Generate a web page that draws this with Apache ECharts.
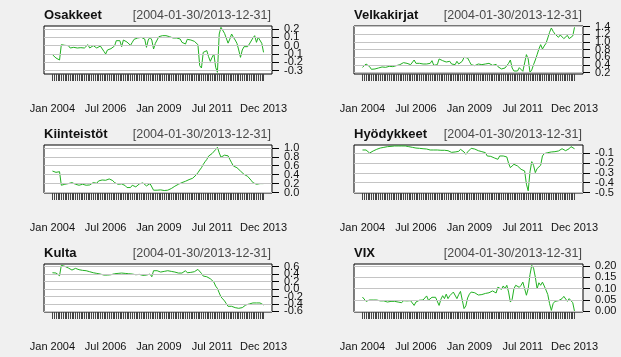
<!DOCTYPE html>
<html><head><meta charset="utf-8">
<script src="https://cdn.jsdelivr.net/npm/echarts@6/dist/echarts.min.js"></script>
<style>html,body{margin:0;padding:0;background:#f0f0f0;}#c{width:621px;height:357px;}</style>
</head><body><div id="c"></div>
<script>
// ---- data ----
const months = [];
for (let y = 2004; y <= 2013; y++) for (let m = 1; m <= 12; m++) months.push(y + '-' + String(m).padStart(2, '0'));
const xTickMonths = ['2004-01', '2006-07', '2009-01', '2011-07', '2013-12'];
const xTickLabels = ['Jan 2004', 'Jul 2006', 'Jan 2009', 'Jul 2011', 'Dec 2013'];
const dateRange = '[2004-01-30/2013-12-31]';
const panelNames = ['Osakkeet', 'Velkakirjat', 'Kiinteistöt', 'Hyödykkeet', 'Kulta', 'VIX'];

const osakkeet = [-0.108,-0.128,-0.148,-0.172,-0.172,0.012,0.02,0.004,-0.004,0,-0.028,-0.036,-0.02,-0.02,-0.028,-0.02,-0.024,-0.012,-0.028,-0.004,
0.012,-0.028,-0.02,0,-0.02,-0.028,-0.012,-0.004,-0.028,-0.068,-0.1,-0.052,-0.028,-0.036,-0.02,-0.004,0.06,0.08,0.06,-0.012,
0.068,0.06,0.044,0.02,0.004,0.04,0.076,0.068,0.092,0.072,0.1,0.084,0.08,-0.02,0.068,0.1,0.068,-0.04,0.028,0.068,
0.108,0.12,0.12,0.124,0.12,0.116,0.108,0.1,0.092,0.084,0.092,0.068,0.08,0.04,0.06,0.02,0.076,0.052,0.068,0.06,
0.052,0.036,0.012,-0.24,-0.268,-0.08,-0.068,-0.06,-0.132,-0.188,-0.14,-0.1,-0.26,-0.32,0.14,0.22,0.22,0.148,0.164,0.03,
0.08,0.14,0.1,0.068,0.028,-0.052,-0.14,-0.052,-0.012,-0.004,-0.012,0.02,0.04,0.092,0.12,0.04,0.1,0.08,0.028,-0.08];
const velkakirjat = [0.339,0.374,0.426,0.443,0.357,0.287,0.296,0.296,0.304,0.322,0.33,0.348,0.357,0.339,0.357,0.365,0.383,0.357,0.4,0.383,
0.383,0.409,0.435,0.461,0.426,0.443,0.426,0.409,0.435,0.53,0.443,0.435,0.443,0.435,0.426,0.47,0.426,0.409,0.443,0.513,
0.391,0.365,0.409,0.557,0.548,0.513,0.496,0.478,0.47,0.496,0.426,0.443,0.409,0.496,0.426,0.47,0.496,0.6,0.635,0.583,
0.496,0.409,0.391,0.383,0.409,0.426,0.417,0.409,0.417,0.426,0.409,0.443,0.426,0.391,0.443,0.417,0.357,0.322,0.296,0.252,
0.322,0.357,0.443,0.53,0.322,0.243,0.226,0.243,0.33,0.304,0.235,0.252,0.67,0.557,0.209,0.27,0.409,0.53,0.67,0.817,
0.93,0.817,0.896,0.965,1.104,1.252,1.365,1.278,1.209,1.165,1.122,1.183,1.139,1.087,1.139,1.174,1.087,1.139,1.157,1.383];
const kiinteistot = [0.481,0.467,0.452,0.467,0.467,0.163,0.17,0.185,0.193,0.2,0.207,0.222,0.259,0.185,0.17,0.163,0.178,0.185,0.185,0.163,
0.126,0.17,0.193,0.222,0.215,0.207,0.259,0.237,0.281,0.289,0.274,0.296,0.304,0.296,0.267,0.222,0.185,0.185,0.185,0.193,
0.2,0.156,0.111,0.104,0.111,0.163,0.141,0.126,0.163,0.193,0.207,0.215,0.185,0.148,0.17,0.2,0.163,0.052,0.052,0.052,
0.059,0.059,0.052,0.044,0.037,0.052,0.074,0.089,0.104,0.141,0.163,0.185,0.2,0.222,0.237,0.252,0.267,0.289,0.304,0.319,
0.348,0.393,0.444,0.504,0.556,0.63,0.689,0.741,0.815,0.852,0.874,0.896,0.963,1.015,0.889,0.793,0.793,0.837,0.8,0.822,
0.741,0.667,0.593,0.57,0.556,0.519,0.481,0.444,0.407,0.385,0.363,0.333,0.274,0.222,0.259,0.185,0.2,0.2,0.2,0.2];
const hyodykkeet = [-0.066,-0.063,-0.066,-0.076,-0.097,-0.086,-0.076,-0.066,-0.059,-0.053,-0.046,-0.042,-0.039,-0.036,-0.032,-0.032,-0.029,-0.025,-0.025,-0.025,
-0.025,-0.025,-0.025,-0.025,-0.025,-0.029,-0.032,-0.036,-0.039,-0.042,-0.046,-0.046,-0.049,-0.049,-0.053,-0.053,-0.056,-0.063,-0.066,-0.063,
-0.066,-0.066,-0.066,-0.066,-0.069,-0.066,-0.069,-0.069,-0.073,-0.076,-0.09,-0.076,-0.086,-0.093,-0.08,-0.059,-0.073,-0.086,-0.11,-0.086,
-0.066,-0.049,-0.046,-0.056,-0.066,-0.073,-0.076,-0.083,-0.086,-0.093,-0.127,-0.12,-0.131,-0.151,-0.147,-0.154,-0.161,-0.127,-0.141,-0.127,
-0.147,-0.137,-0.202,-0.246,-0.256,-0.212,-0.212,-0.229,-0.232,-0.263,-0.253,-0.28,-0.415,-0.483,-0.29,-0.185,-0.222,-0.297,-0.256,-0.273,
-0.222,-0.127,-0.103,-0.103,-0.093,-0.09,-0.086,-0.086,-0.083,-0.08,-0.076,-0.066,-0.053,-0.046,-0.073,-0.08,-0.053,-0.032,-0.042,-0.053];
const kulta = [0.438,0.438,0.43,0.402,0.357,0.636,0.618,0.609,0.591,0.564,0.537,0.51,0.51,0.555,0.528,0.519,0.51,0.501,0.492,0.492,
0.483,0.465,0.456,0.438,0.42,0.42,0.465,0.402,0.393,0.375,0.375,0.375,0.375,0.384,0.393,0.411,0.42,0.42,0.438,0.429,
0.42,0.42,0.42,0.411,0.402,0.402,0.402,0.384,0.375,0.393,0.402,0.366,0.348,0.375,0.384,0.402,0.33,0.492,0.474,0.492,
0.465,0.456,0.474,0.474,0.492,0.492,0.474,0.474,0.465,0.456,0.438,0.429,0.42,0.429,0.447,0.492,0.438,0.438,0.447,0.456,
0.465,0.492,0.528,0.51,0.42,0.348,0.339,0.33,0.312,0.276,0.24,0.186,0.078,0.015,-0.103,-0.211,-0.265,-0.319,-0.391,-0.463,
-0.436,-0.463,-0.499,-0.499,-0.499,-0.517,-0.553,-0.499,-0.454,-0.427,-0.409,-0.4,-0.391,-0.373,-0.346,-0.373,-0.373,-0.373,-0.382,-0.427];
const vix = [0.063,0.059,0.044,0.05,0.05,0.049,0.05,0.051,0.05,0.049,0.046,0.046,0.046,0.043,0.041,0.043,0.044,0.038,0.044,0.049,
0.041,0.044,0.038,0.047,0.041,0.046,0.043,0.047,0.046,0.026,0.041,0.041,0.049,0.044,0.05,0.054,0.068,0.049,0.044,0.062,
0.068,0.062,0.065,0.026,0.053,0.069,0.056,0.076,0.056,0.069,0.069,0.085,0.088,0.056,0.074,0.088,0.085,0.012,0.024,0.059,
0.076,0.085,0.078,0.082,0.078,0.072,0.072,0.074,0.076,0.079,0.085,0.082,0.09,0.09,0.097,0.081,0.107,0.103,0.097,0.112,
0.1,0.115,0.085,0.041,0.053,0.1,0.115,0.112,0.106,0.115,0.129,0.137,0.071,0.1,0.162,0.203,0.191,0.151,0.1,0.126,
0.115,0.129,0.112,0.094,0.074,0.034,0.004,0.034,0.044,0.038,0.047,0.044,0.056,0.066,0.062,0.044,0.056,0.051,0.038,0];

const yTicksOsakkeet = [-0.3, -0.2, -0.1, 0, 0.1, 0.2];
const yTicksVelkakirjat = [0.2, 0.4, 0.6, 0.8, 1.0, 1.2, 1.4];
const yTicksKiinteistot = [0, 0.2, 0.4, 0.6, 0.8, 1.0];
const yTicksHyodykkeet = [-0.5, -0.4, -0.3, -0.2, -0.1];
const yTicksKulta = [-0.6, -0.4, -0.2, 0, 0.2, 0.4, 0.6];
const yTicksVix = [0, 0.05, 0.1, 0.15, 0.2];

// ---- layout / style ----
const W = 621;
const panels = [
  {name: panelNames[0], values: osakkeet,    ticks: yTicksOsakkeet,    dec: 1, range: [-0.34, 0.236],   box: {left: 44,  top: 26,  width: 228, height: 48}},
  {name: panelNames[1], values: velkakirjat, ticks: yTicksVelkakirjat, dec: 1, range: [0.165, 1.417],   box: {left: 354, top: 26,  width: 229, height: 48}},
  {name: panelNames[2], values: kiinteistot, ticks: yTicksKiinteistot, dec: 1, range: [-0.011, 1.065],  box: {left: 44,  top: 145, width: 228, height: 48}},
  {name: panelNames[3], values: hyodykkeet,  ticks: yTicksHyodykkeet,  dec: 1, range: [-0.505, -0.015], box: {left: 354, top: 145, width: 229, height: 48}},
  {name: panelNames[4], values: kulta,       ticks: yTicksKulta,       dec: 1, range: [-0.616, 0.672],  box: {left: 44,  top: 264, width: 228, height: 48}},
  {name: panelNames[5], values: vix,         ticks: yTicksVix,         dec: 2, range: [-0.003, 0.209],  box: {left: 354, top: 264, width: 229, height: 48}}
];
const FONT = 'Liberation Sans, Arial, sans-serif';
const LINE = '#22b022';
const GRID = '#c4c4c4';
const monthIdx = months.map((m, i) => i);
const xLabelIdx = xTickMonths.map(m => months.indexOf(m));
const pad = (months.length - 1) * 0.04;

const option = {
  animation: false,
  backgroundColor: '#f0f0f0',
  title: [],
  grid: [],
  xAxis: [],
  yAxis: [],
  series: []
};

panels.forEach((p, k) => {
  const b = p.box;
  option.title.push({
    text: p.name, left: b.left, top: b.top - 17, padding: 0,
    textStyle: {fontFamily: FONT, fontSize: 13, fontWeight: 'bold', color: '#111'}
  });
  option.title.push({
    text: dateRange, right: W - (b.left + b.width) + 1, top: b.top - 17, padding: 0,
    textStyle: {fontFamily: FONT, fontSize: 12.5, fontWeight: 'normal', color: '#4a4a4a'}
  });
  option.grid.push({
    left: b.left, top: b.top, width: b.width, height: b.height,
    show: true, backgroundColor: '#ffffff', borderColor: '#000000', borderWidth: 1
  });
  option.xAxis.push({
    type: 'value', gridIndex: k, position: 'bottom', min: -pad, max: months.length - 1 + pad,
    axisLine: {show: false, onZero: false},
    splitLine: {show: false},
    axisTick: {show: true, length: 7, customValues: monthIdx, lineStyle: {color: '#444', width: 1}},
    axisLabel: {
      customValues: xLabelIdx, margin: 29, fontFamily: FONT, fontSize: 11, color: '#111',
      showMinLabel: true, showMaxLabel: true,
      formatter: v => xTickLabels[xLabelIdx.indexOf(Math.round(v))] || ''
    }
  });
  // labels are split over two overlaid right-hand axes so none get hidden as overlapping
  [0, 1].forEach(part => {
    const labelVals = p.ticks.filter((t, i) => i % 2 === part);
    option.yAxis.push({
      type: 'value', gridIndex: k, position: 'right', offset: 0, min: p.range[0], max: p.range[1],
      axisLine: {show: false, onZero: false},
      splitLine: {show: false},
      axisTick: part === 0
        ? {show: true, length: 7, customValues: p.ticks, lineStyle: {color: '#000', width: 1}}
        : {show: false},
      axisLabel: {
        customValues: labelVals, margin: 12, fontFamily: FONT, fontSize: 11, color: '#111',
        showMinLabel: true, showMaxLabel: true,
        formatter: v => (Math.abs(v) < 1e-9 ? 0 : v).toFixed(p.dec)
      }
    });
  });
  const yIdx = 2 * k;
  const data = p.values.map((v, i) => [i, v]);
  // horizontal grid lines (drawn under the data line)
  option.series.push({
    type: 'line', xAxisIndex: k, yAxisIndex: yIdx, z: 1, data: data, symbol: 'none',
    lineStyle: {opacity: 0}, silent: true,
    markLine: {
      silent: true, symbol: ['none', 'none'], label: {show: false},
      lineStyle: {color: GRID, type: 'solid', width: 1},
      data: p.ticks.map(t => ({yAxis: t}))
    }
  });
  option.series.push({
    type: 'line', name: p.name, xAxisIndex: k, yAxisIndex: yIdx, z: 3, data: data,
    symbol: 'none', lineStyle: {color: LINE, width: 1}
  });
});

const chart = echarts.init(document.getElementById('c'), null, {renderer: 'canvas'});
chart.setOption(option);
</script></body></html>
